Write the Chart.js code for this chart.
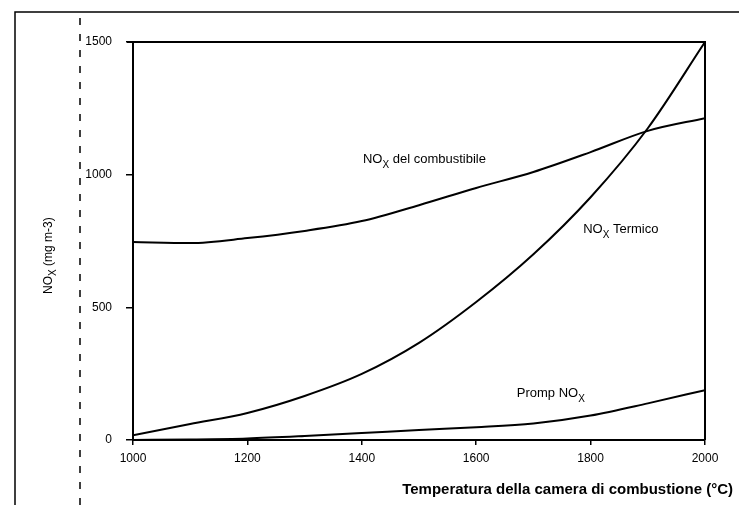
<!DOCTYPE html>
<html>
<head>
<meta charset="utf-8">
<script src="https://cdn.jsdelivr.net/npm/chart.js@4.4.1/dist/chart.umd.min.js"></script>
<style>
  body { margin: 0; background: #fff; }
  #wrap { width: 739px; height: 510px; position: relative; }
</style>
</head>
<body>
<div id="wrap"><canvas id="graphique"></canvas></div>
<script>
// temperature (°C) and NOx (mg m-3)
const temperature = [1000, 1100, 1200, 1300, 1400, 1500, 1600, 1700, 1800, 1900, 2000];
const noxCombustibile = [746, 742, 761, 788, 825, 885, 950, 1010, 1085, 1165, 1213];
const noxTermico = [18, 60, 102, 166, 249, 366, 520, 700, 915, 1175, 1500];
const noxPromp = [0, 2, 6, 15, 26, 38, 48, 62, 92, 138, 188];

const xTicks = [1000, 1200, 1400, 1600, 1800, 2000];
const yTicks = [0, 500, 1000, 1500];

// curve labels: [text before subscript, subscript, text after, temp, value]
const curveLabels = [
   ['NO', 'X', ' del combustibile', 1402, 1044],
   ['NO', 'X', ' Termico', 1787, 780],
   ['Promp NO', 'X', '', 1671, 162]
];

const FONT = '"Liberation Sans", Arial, sans-serif';
Chart.defaults.font.family = FONT;
Chart.defaults.color = '#000';

function toPoints(vals) {
   return temperature.map((t, i) => ({ x: t, y: vals[i] }));
}

function lineSet(label, vals) {
   return {
      label: label,
      data: toPoints(vals),
      borderColor: '#000',
      borderWidth: 2,
      pointRadius: 0,
      fill: false,
      cubicInterpolationMode: 'monotone'
   };
}

// text with a subscript part
function subText(ctx, x, y, pre, sub, post, size) {
   ctx.font = size + 'px ' + FONT;
   ctx.fillText(pre, x, y);
   x += ctx.measureText(pre).width;
   ctx.font = Math.round(size * 0.8) + 'px ' + FONT;
   ctx.fillText(sub, x, y + size * 0.35);
   x += ctx.measureText(sub).width;
   ctx.font = size + 'px ' + FONT;
   ctx.fillText(post, x, y);
}

const decor = {
   id: 'decor',
   afterDraw(chart) {
      const ctx = chart.ctx;
      const a = chart.chartArea;
      const xs = chart.scales.x, ys = chart.scales.y;
      ctx.save();
      ctx.strokeStyle = '#000';
      // box top and right
      ctx.lineWidth = 2;
      ctx.beginPath();
      ctx.moveTo(a.left - 6, a.top);
      ctx.lineTo(a.right, a.top);
      ctx.lineTo(a.right, a.bottom);
      ctx.stroke();

      // outer scan frame
      ctx.lineWidth = 1.5;
      ctx.beginPath();
      ctx.moveTo(15, 505);
      ctx.lineTo(15, 12);
      ctx.lineTo(739, 12);
      ctx.stroke();
      ctx.setLineDash([7, 9]);
      ctx.beginPath();
      ctx.moveTo(80, 18);
      ctx.lineTo(80, 505);
      ctx.stroke();
      ctx.setLineDash([]);

      // curve labels
      ctx.fillStyle = '#000';
      ctx.textBaseline = 'alphabetic';
      ctx.textAlign = 'left';
      curveLabels.forEach(l => {
         subText(ctx, xs.getPixelForValue(l[3]), ys.getPixelForValue(l[4]), l[0], l[1], l[2], 13);
      });

      // y title, rotated
      ctx.save();
      ctx.translate(52, 294);
      ctx.rotate(-Math.PI / 2);
      subText(ctx, 0, 0, 'NO', 'X', ' (mg m-3)', 12);
      ctx.restore();

      // x title
      ctx.font = 'bold 15px ' + FONT;
      ctx.textAlign = 'right';
      ctx.fillText('Temperatura della camera di combustione (°C)', 733, 494);
      ctx.restore();
   }
};

const ctx = document.getElementById('graphique');

const myChart = new Chart(ctx, {
   type: 'line',
   data: {
      datasets: [
         lineSet('NOx del combustibile', noxCombustibile),
         lineSet('NOx Termico', noxTermico),
         lineSet('Promp NOx', noxPromp)
      ]
   },
   options: {
      responsive: true,
      maintainAspectRatio: false,
      animation: false,
      layout: { padding: { left: 0, right: 34, top: 42, bottom: 0 } },
      plugins: { legend: { display: false }, tooltip: { enabled: false } },
      scales: {
         x: {
            type: 'linear',
            min: 1000,
            max: 2000,
            afterBuildTicks: s => { s.ticks = xTicks.map(v => ({ value: v })); },
            afterFit: s => { s.height = 70; },
            ticks: { font: { size: 12 }, padding: 6, maxRotation: 0, callback: v => String(v) },
            grid: { drawOnChartArea: false, tickLength: 5, color: '#000', lineWidth: 1.5 },
            border: { color: '#000', width: 2 }
         },
         y: {
            min: 0,
            max: 1500,
            afterBuildTicks: s => { s.ticks = yTicks.map(v => ({ value: v })); },
            afterFit: s => { s.width = 133; },
            ticks: { font: { size: 12 }, padding: 14, callback: v => String(v) },
            grid: { drawOnChartArea: false, tickLength: 7, color: '#000', lineWidth: 1.5 },
            border: { color: '#000', width: 2 }
         }
      }
   },
   plugins: [decor]
});
</script>
</body>
</html>
